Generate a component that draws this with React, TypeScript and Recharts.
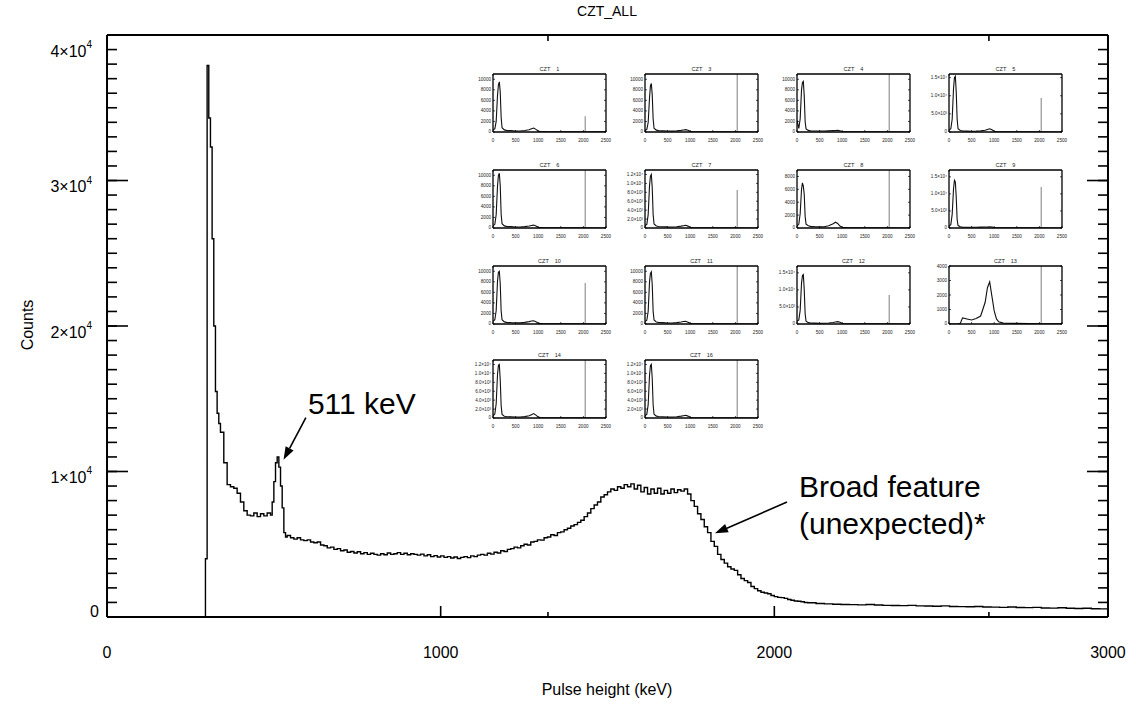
import React from 'react';
import { LineChart, Line, XAxis, YAxis, ReferenceLine } from 'recharts';

const FONT = '"Liberation Sans", Arial, Helvetica, sans-serif';

// CZT_ALL spectrum: bin start (keV) and counts
const energyKeV = [
  290, 295, 300, 305, 310, 315, 320, 325, 330, 335, 340,
  350, 360, 370, 380, 390, 400, 410, 420, 430, 440, 450, 460, 470, 480, 490,
  495, 500, 505, 510, 515, 520, 525, 530, 535, 540,
  550, 560, 570, 580, 590, 600, 610, 620, 630, 640,
  650, 660, 670, 680, 690, 700, 710, 720, 730, 740,
  750, 760, 770, 780, 790, 800, 810, 820, 830, 840,
  850, 860, 870, 880, 890, 900, 910, 920, 930, 940,
  950, 960, 970, 980, 990, 1000, 1010, 1020, 1030, 1040,
  1050, 1060, 1070, 1080, 1090, 1100, 1110, 1120, 1130, 1140,
  1150, 1160, 1170, 1180, 1190, 1200, 1210, 1220, 1230, 1240,
  1250, 1260, 1270, 1280, 1290, 1300, 1310, 1320, 1330, 1340,
  1350, 1360, 1370, 1380, 1390, 1400, 1410, 1420, 1430, 1440,
  1450, 1460, 1470, 1480, 1490, 1500, 1510, 1520, 1530, 1540,
  1550, 1560, 1570, 1580, 1590, 1600, 1610, 1620, 1630, 1640,
  1650, 1660, 1670, 1680, 1690, 1700, 1710, 1720, 1730, 1740,
  1750, 1760, 1770, 1780, 1790, 1800, 1810, 1820, 1830, 1840,
  1850, 1860, 1870, 1880, 1890, 1900, 1910, 1920, 1930, 1940,
  1950, 1960, 1970, 1980, 1990, 2000, 2010, 2020, 2030, 2040,
  2050, 2060, 2070, 2080, 2090, 2100,
  2125, 2150, 2175, 2200, 2225, 2250, 2275, 2300, 2325, 2350,
  2375, 2400, 2425, 2450, 2475, 2500, 2525, 2550, 2575, 2600,
  2625, 2650, 2675, 2700, 2725, 2750, 2775, 2800, 2825, 2850,
  2875, 2900, 2925, 2950, 2975, 3000,
];

const counts = [
  0, 4000, 37900, 34300, 32300, 26000, 20000, 15500, 14000, 13300, 12700,
  10600, 9100, 8950, 8850, 8500, 7900, 7300, 7000, 6950, 7150, 6900, 7100, 6950, 7150, 7000,
  7900, 9300, 10600, 11000, 10300, 9000, 7500, 5800, 5500, 5600,
  5450, 5350, 5450, 5300, 5250, 5300, 5150, 5100, 5150, 4950,
  4900, 4750, 4800, 4650, 4700, 4550, 4600, 4450, 4500, 4400,
  4480, 4350, 4420, 4300, 4380, 4300, 4250, 4350, 4280, 4400,
  4300, 4350, 4420, 4300, 4380, 4280, 4350, 4300, 4250, 4320,
  4200, 4280, 4150, 4220, 4120, 4200, 4100, 4150, 4050, 4120,
  4020, 4100, 4150, 4080, 4200, 4150, 4250, 4300, 4250, 4380,
  4320, 4450, 4400, 4550, 4500, 4650, 4700, 4800, 4750, 4900,
  5000, 4950, 5150, 5200, 5300, 5280, 5450, 5500, 5650, 5600,
  5800, 5850, 6000, 6100, 6250, 6350, 6500, 6650, 6900, 7150,
  7450, 7700, 7900, 8250, 8400, 8600, 8800, 8700, 8950, 8850,
  9100, 8950, 9150, 8800, 9050, 8600, 8900, 8450, 8800, 8500,
  8850, 8450, 8700, 8500, 8800, 8550, 8750, 8650, 8800, 8450,
  8000, 7600, 7100, 6700, 6200, 5800, 5200, 4850, 4300, 3950,
  3700, 3450, 3300, 3200, 2900, 2650, 2500, 2370, 2100, 1950,
  1800, 1700, 1650, 1600, 1480, 1400, 1350, 1330, 1280, 1200,
  1150, 1100, 1080, 1050, 1000, 980,
  930, 900, 870, 860, 850, 830, 860, 820, 800, 790,
  780, 800, 760, 750, 740, 760, 720, 710, 700, 720,
  690, 680, 660, 690, 650, 640, 660, 620, 610, 630,
  600, 580, 600, 570, 560, 560,
];

const xLabelTicks = [0, 1000, 2000, 3000];
const yLabelTicks = [0, 10000, 20000, 30000, 40000];
const xMinorTicks = Array.from({ length: 31 }, (_, i) => i * 100);
const yMinorTicks = Array.from({ length: 41 }, (_, i) => i * 1000);

// annotation arrows, tail -> head in data units
const peakArrow = [{ x: 596, y: 13700 }, { x: 529, y: 10800 }];
const broadArrow = [{ x: 2038, y: 7900 }, { x: 1822, y: 5750 }];

// per-detector insets
const insetKeV = [0, 40, 70, 100, 120, 140, 160, 180, 200, 250, 300, 400, 500, 600, 700, 800, 850, 900, 950, 1000, 1050, 1100, 1200, 1500, 2000, 2500];
const insetXTicks = [0, 500, 1000, 1500, 2000, 2500];
const insetTitles = ['1', '3', '4', '5', '6', '7', '8', '9', '10', '11', '12', '13', '14', '16'];
const insetCounts = [
  [400, 600, 2000, 7000, 9000, 9500, 7600, 2800, 800, 400, 300, 250, 200, 200, 280, 420, 600, 750, 500, 180, 90, 60, 40, 30, 20, 15],
  [300, 500, 1800, 6500, 8800, 9200, 7000, 2500, 700, 350, 260, 220, 180, 170, 220, 300, 380, 450, 320, 120, 70, 50, 40, 25, 20, 10],
  [2200, 700, 2500, 8000, 9400, 9600, 6800, 2000, 600, 300, 220, 200, 180, 190, 220, 260, 280, 300, 250, 100, 60, 40, 30, 20, 15, 10],
  [500, 900, 3500, 12000, 15000, 15400, 11000, 3500, 900, 400, 300, 250, 220, 230, 300, 500, 700, 900, 600, 200, 100, 70, 50, 30, 20, 15],
  [400, 700, 2500, 8000, 10000, 10400, 8000, 2600, 800, 400, 300, 250, 200, 200, 260, 380, 480, 550, 380, 150, 80, 60, 40, 30, 20, 10],
  [500, 800, 3000, 9500, 11600, 12000, 9000, 3000, 900, 450, 330, 280, 240, 230, 280, 420, 520, 600, 420, 160, 90, 60, 40, 30, 20, 10],
  [300, 600, 2200, 6000, 7000, 6500, 5200, 1800, 600, 350, 250, 200, 180, 200, 350, 650, 900, 700, 300, 120, 70, 50, 40, 30, 20, 10],
  [600, 1000, 4000, 11500, 14000, 13500, 9000, 2500, 700, 350, 260, 220, 200, 200, 240, 280, 300, 320, 280, 120, 70, 50, 40, 30, 20, 10],
  [500, 800, 2500, 8200, 9800, 10000, 7600, 2500, 800, 400, 300, 250, 220, 220, 300, 450, 560, 600, 420, 160, 80, 60, 40, 30, 20, 10],
  [450, 700, 2400, 8000, 9600, 9900, 7400, 2400, 750, 380, 300, 250, 200, 200, 260, 380, 460, 500, 350, 130, 70, 50, 40, 30, 20, 10],
  [800, 1200, 4000, 12000, 14200, 14500, 10000, 3000, 800, 400, 300, 250, 220, 220, 300, 450, 600, 700, 500, 180, 90, 60, 40, 30, 20, 10],
  [0, 0, 0, 0, 0, 0, 0, 0, 0, 50, 420, 350, 280, 380, 550, 1500, 2500, 2900, 1900, 900, 350, 150, 60, 40, 20, 10],
  [500, 900, 3200, 9800, 11800, 12000, 8500, 2800, 800, 400, 320, 270, 230, 230, 300, 500, 750, 1000, 650, 200, 90, 60, 40, 30, 20, 10],
  [500, 850, 3000, 9600, 11700, 12000, 8800, 2900, 850, 420, 320, 270, 230, 230, 290, 420, 520, 600, 420, 160, 80, 60, 40, 30, 20, 10],
];
const insetPulser = [3000, 11000, 11000, 9400, 11000, 8500, 9000, 12000, 7800, 11000, 8500, 4000, 13000, 13000];
const insetYMax = [11000, 11000, 11000, 16000, 11000, 13000, 9000, 17000, 11000, 11000, 17000, 4000, 13000, 13000];
const insetScale = ['A', 'A', 'A', 'B', 'A', 'C', 'D', 'B', 'A', 'A', 'B', 'E', 'C', 'C'];
const scaleTicks: Record<string, number[]> = {
  A: [0, 2000, 4000, 6000, 8000, 10000],
  B: [0, 5000, 10000, 15000],
  C: [0, 2000, 4000, 6000, 8000, 10000, 12000],
  D: [0, 2000, 4000, 6000, 8000],
  E: [0, 1000, 2000, 3000, 4000],
};
const sciLabels: Record<number, string> = {
  2000: '2.0×10³', 4000: '4.0×10³', 5000: '5.0×10³', 6000: '6.0×10³', 8000: '8.0×10³',
  10000: '1.0×10⁴', 12000: '1.2×10⁴', 15000: '1.5×10⁴',
};
const insetCols = [493, 645, 797, 949];
const insetRows = [74, 170, 266, 360];

// axes get a hair of size so recharts still draws them
const THIN = 0.01;
const AXIS = { stroke: '#000', strokeWidth: 2 };
const TICK = { stroke: '#000', strokeWidth: 1.6 };
const blank = () => <g />;

const yLabelShift: Record<number, number> = { 40000: 16, 30000: 6, 20000: 6, 10000: 6, 0: -5 };

function YTick(p: any) {
  const v = p.payload.value;
  const y = p.y + (yLabelShift[v] ?? 0);
  if (v === 0) {
    return <text x={p.x + 7} y={y} textAnchor="end" dominantBaseline="central" fontSize={16} fontFamily={FONT} fill="#000">0</text>;
  }
  return (
    <text x={p.x} y={y} textAnchor="end" dominantBaseline="central" fontSize={16} fontFamily={FONT} fill="#000">
      {v / 10000}×10<tspan fontSize={10} dy={-7}>4</tspan>
    </text>
  );
}

function XTick(p: any) {
  return (
    <text x={p.x} y={p.y} dy="0.71em" textAnchor="middle" fontSize={16} fontFamily={FONT} fill="#000">
      {p.payload.value}
    </text>
  );
}

function arrowShape(lines: string[], dx: number, dy: number) {
  return (p: any) => {
    const { x1, y1, x2, y2 } = p;
    const ang = Math.atan2(y2 - y1, x2 - x1);
    const len = 13;
    const half = 4.5;
    const bx = x2 - len * Math.cos(ang);
    const by = y2 - len * Math.sin(ang);
    const nx = -Math.sin(ang) * half;
    const ny = Math.cos(ang) * half;
    return (
      <g>
        <line x1={x1} y1={y1} x2={bx} y2={by} stroke="#000" strokeWidth={1.6} />
        <polygon points={`${x2},${y2} ${bx + nx},${by + ny} ${bx - nx},${by - ny}`} fill="#000" />
        <text x={x1 + dx} y={y1 + dy} fontSize={30} fontFamily={FONT} fill="#000">
          {lines.map((t, i) => (
            <tspan key={i} x={x1 + dx} dy={i === 0 ? 0 : 37}>{t}</tspan>
          ))}
        </text>
      </g>
    );
  };
}

function Inset({ idx }: { idx: number }) {
  const data = insetKeV.map((e, i) => ({ e, c: insetCounts[idx][i] }));
  const ticks = scaleTicks[insetScale[idx]];
  const sci = insetScale[idx] === 'B' || insetScale[idx] === 'C';
  const left = insetCols[idx % 4];
  const top = insetRows[Math.floor(idx / 4)];
  const small = { fontSize: 4.6, fontFamily: FONT, fill: '#222' };
  const iAxis = { stroke: '#000', strokeWidth: 1.3 };
  const iTick = { stroke: '#000', strokeWidth: 0.7 };
  return (
    <div style={{ position: 'absolute', left: left - 26, top: top - 10 }}>
      <div
        style={{
          position: 'absolute', left: 26, top: 2, width: 113, textAlign: 'center',
          fontSize: 5.5, lineHeight: '6px', fontFamily: FONT, whiteSpace: 'pre', color: '#222',
        }}
      >
        {`CZT    ${insetTitles[idx]}`}
      </div>
      <LineChart width={145} height={86} data={data} margin={{ top: 10, right: 6, bottom: 18, left: 26 }}>
        <XAxis xAxisId="b" dataKey="e" type="number" domain={[0, 2500]} ticks={insetXTicks} interval={0}
          height={THIN} tickSize={-2} tickMargin={9} axisLine={iAxis} tickLine={iTick} allowDataOverflow
          tick={(p: any) => <text x={p.x} y={p.y} dy="0.71em" textAnchor="middle" {...small}>{p.payload.value}</text>} />
        <XAxis xAxisId="t" orientation="top" type="number" domain={[0, 2500]} ticks={insetXTicks} interval={0}
          height={THIN} tickSize={-2} axisLine={iAxis} tickLine={iTick} tick={blank} allowDataOverflow />
        <YAxis yAxisId="l" type="number" domain={[0, insetYMax[idx]]} ticks={ticks} interval={0}
          width={THIN} tickSize={-2} tickMargin={4} axisLine={iAxis} tickLine={iTick} allowDataOverflow
          tick={(p: any) => (
            <text x={p.x} y={p.y} textAnchor="end" dominantBaseline="central" {...small}>
              {sci && p.payload.value !== 0 ? sciLabels[p.payload.value] : p.payload.value}
            </text>
          )} />
        <YAxis yAxisId="r" orientation="right" type="number" domain={[0, insetYMax[idx]]} ticks={ticks} interval={0}
          width={THIN} tickSize={-2} axisLine={iAxis} tickLine={iTick} tick={blank} allowDataOverflow />
        <ReferenceLine xAxisId="b" yAxisId="l" segment={[{ x: 2040, y: 0 }, { x: 2040, y: insetPulser[idx] }]}
          stroke="#8a8a8a" strokeWidth={1.1} />
        <Line xAxisId="b" yAxisId="l" dataKey="c" type="linear" stroke="#111" strokeWidth={1.1}
          dot={false} isAnimationActive={false} />
      </LineChart>
    </div>
  );
}

export default function App() {
  const spectrum = energyKeV.map((e, i) => ({ e, c: counts[i] }));
  return (
    <div style={{ position: 'absolute', left: 0, top: 0, width: 1136, height: 704, background: '#fff', fontFamily: FONT }}>
      <LineChart width={1136} height={704} data={spectrum} margin={{ top: 35, right: 28, bottom: 87, left: 107 }}>
        <XAxis xAxisId="x" dataKey="e" type="number" domain={[0, 3000]} ticks={xLabelTicks} interval={0}
          height={THIN} tickSize={-11} tickMargin={41} tick={XTick} axisLine={AXIS} tickLine={TICK} allowDataOverflow />
        <XAxis xAxisId="xm" type="number" domain={[0, 3000]} ticks={xMinorTicks} interval={0}
          height={THIN} tickSize={-5} tick={blank} axisLine={false} tickLine={TICK} allowDataOverflow />
        <XAxis xAxisId="xt" orientation="top" type="number" domain={[0, 3000]} ticks={xLabelTicks} interval={0}
          height={THIN} tickSize={-11} tick={blank} axisLine={AXIS} tickLine={TICK} allowDataOverflow />
        <XAxis xAxisId="xtm" orientation="top" type="number" domain={[0, 3000]} ticks={xMinorTicks} interval={0}
          height={THIN} tickSize={-6} tick={blank} axisLine={false} tickLine={TICK} allowDataOverflow />
        <YAxis yAxisId="y" type="number" domain={[0, 40000]} ticks={yLabelTicks} interval={0}
          width={THIN} tickSize={-21} tickMargin={36} tick={YTick} axisLine={AXIS} tickLine={TICK} allowDataOverflow />
        <YAxis yAxisId="ym" type="number" domain={[0, 40000]} ticks={yMinorTicks} interval={0}
          width={THIN} tickSize={-10} tick={blank} axisLine={false} tickLine={TICK} allowDataOverflow />
        <YAxis yAxisId="yr" orientation="right" type="number" domain={[0, 40000]} ticks={yLabelTicks} interval={0}
          width={THIN} tickSize={-21} tick={blank} axisLine={AXIS} tickLine={TICK} allowDataOverflow />
        <YAxis yAxisId="yrm" orientation="right" type="number" domain={[0, 40000]} ticks={yMinorTicks} interval={0}
          width={THIN} tickSize={-10} tick={blank} axisLine={false} tickLine={TICK} allowDataOverflow />
        <Line xAxisId="x" yAxisId="y" dataKey="c" type="stepAfter" stroke="#000" strokeWidth={1.4}
          dot={false} isAnimationActive={false} />
        <ReferenceLine xAxisId="x" yAxisId="y" segment={peakArrow} shape={arrowShape(['511 keV'], 2, -4)} />
        <ReferenceLine xAxisId="x" yAxisId="y" segment={broadArrow}
          shape={arrowShape(['Broad feature', '(unexpected)*'], 12, -5)} />
      </LineChart>

      <div style={{ position: 'absolute', left: 507, width: 200, top: 3, textAlign: 'center', fontSize: 14, lineHeight: '16px' }}>
        CZT_ALL
      </div>
      <div style={{ position: 'absolute', left: 457, width: 300, top: 681, textAlign: 'center', fontSize: 16, lineHeight: '18px' }}>
        Pulse height (keV)
      </div>
      <div
        style={{
          position: 'absolute', left: 28 - 60, top: 325 - 9, width: 120, textAlign: 'center',
          fontSize: 16, lineHeight: '18px', transform: 'rotate(-90deg)',
        }}
      >
        Counts
      </div>

      {insetCounts.map((_, i) => (
        <Inset key={i} idx={i} />
      ))}
    </div>
  );
}
